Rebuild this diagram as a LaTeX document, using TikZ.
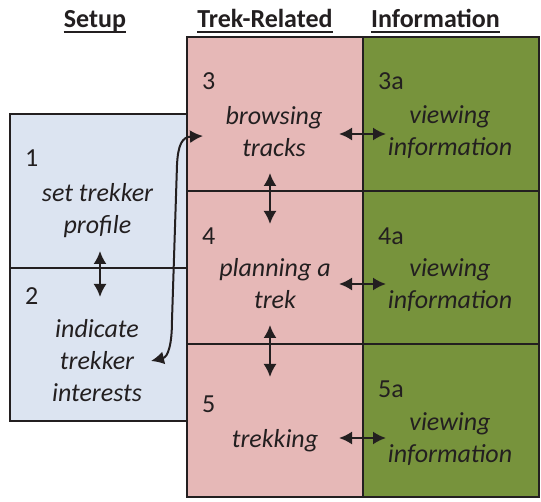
\documentclass[tikz,border=0pt]{standalone}
\usepackage{fontspec}
\setmainfont{Carlito}
\usetikzlibrary{arrows.meta}
\definecolor{ink}{HTML}{231F20}
\definecolor{setupblue}{HTML}{DCE4F1}
\definecolor{trekpink}{HTML}{E6B8B7}
\definecolor{infogreen}{HTML}{77933C}

\begin{document}
\begin{tikzpicture}[x=1pt, y=-1pt,
    cell/.style={draw=ink, line width=2pt, fill=#1, minimum width=176pt, minimum height=153pt, inner sep=0pt},
    num/.style={anchor=base west, inner sep=0pt, text=ink, font=\fontsize{26}{32}\selectfont},
    task/.style={align=center, inner sep=0pt, text=ink, font=\fontsize{26}{32}\selectfont\itshape},
    heading/.style={anchor=base, inner sep=0pt, text=ink, font=\fontsize{26}{32}\selectfont\bfseries},
    link/.style={draw=ink, line width=2pt, {Latex[length=13pt,width=13pt]}-{Latex[length=13pt,width=13pt]}}
]
\useasboundingbox (0,0) rectangle (541,502);

% column headings
\node [heading] (hsetup) at (95,28) {Setup};
\node [heading] (htrek) at (265,28) {Trek-Related};
\node [heading] (hinfo) at (435.5,28) {Information};
\foreach \h in {hsetup,htrek,hinfo}
    \draw [ink, line width=2pt] ([yshift=-4pt]\h.base west) -- ([yshift=-4pt]\h.base east);

% cells
\node [cell=setupblue, minimum width=177pt, minimum height=154pt] (s1) at (98.5,191) {};
\node [cell=setupblue, minimum width=177pt] (s2) at (98.5,344.5) {};
\node [cell=trekpink, minimum height=154pt] (t3) at (275,114) {};
\node [cell=trekpink] (t4) at (275,267.5) {};
\node [cell=trekpink] (t5) at (275,420.5) {};
\node [cell=infogreen, minimum height=154pt] (i3) at (451,114) {};
\node [cell=infogreen] (i4) at (451,267.5) {};
\node [cell=infogreen] (i5) at (451,420.5) {};

% numbers
\node [num] (n1) at (25,167) {1};
\node [num] (n2) at (25,305) {2};
\node [num] (n3) at (202,90) {3};
\node [num] (n3a) at (378,90) {3a};
\node [num] (n4) at (202,245) {4};
\node [num] (n4a) at (378,245) {4a};
\node [num] (n5) at (202,413) {5};
\node [num] (n5a) at (378,398) {5a};

% tasks
\node [task] (profile) at (97.5,211) {set trekker\\profile};
\node [task] (interests) at (97,360.5) {indicate\\trekker\\interests};
\node [task] (browse) at (274,131.5) {browsing\\tracks};
\node [task] (view3) at (450,132) {viewing\\information};
\node [task] (plan) at (275,284) {planning a\\trek};
\node [task] (view4) at (450,285) {viewing\\information};
\node [task] (trekking) at (275,441) {trekking};
\node [task] (view5) at (450,439) {viewing\\information};

% connectors
\draw [link] ([xshift=1.5pt,yshift=18pt]s1.south) -- ([xshift=1.5pt,yshift=-30pt]s2.north);
\draw [link] ([xshift=-5pt,yshift=19pt]t3.south) -- ([xshift=-5pt,yshift=-34pt]t4.north);
\draw [link] ([xshift=-5pt,yshift=20pt]t4.south) -- ([xshift=-5pt,yshift=-34pt]t5.north);
\draw [link] ([xshift=-25pt,yshift=-20pt]t3.east) -- ([xshift=24pt,yshift=-20pt]i3.west);
\draw [link] ([xshift=-25pt,yshift=-16.5pt]t4.east) -- ([xshift=24pt,yshift=-16.5pt]i4.west);
\draw [link] ([xshift=-25pt,yshift=-17.5pt]t5.east) -- ([xshift=24pt,yshift=-17.5pt]i5.west);
\coordinate (cfrom) at (151,361);
\coordinate (cto) at (203,136);
\draw [link] (cfrom) .. controls (168,357) and (172,345) .. (172,320) -- (177,165) .. controls (178,145) and (182,137) .. (cto);

\end{tikzpicture}
\end{document}
